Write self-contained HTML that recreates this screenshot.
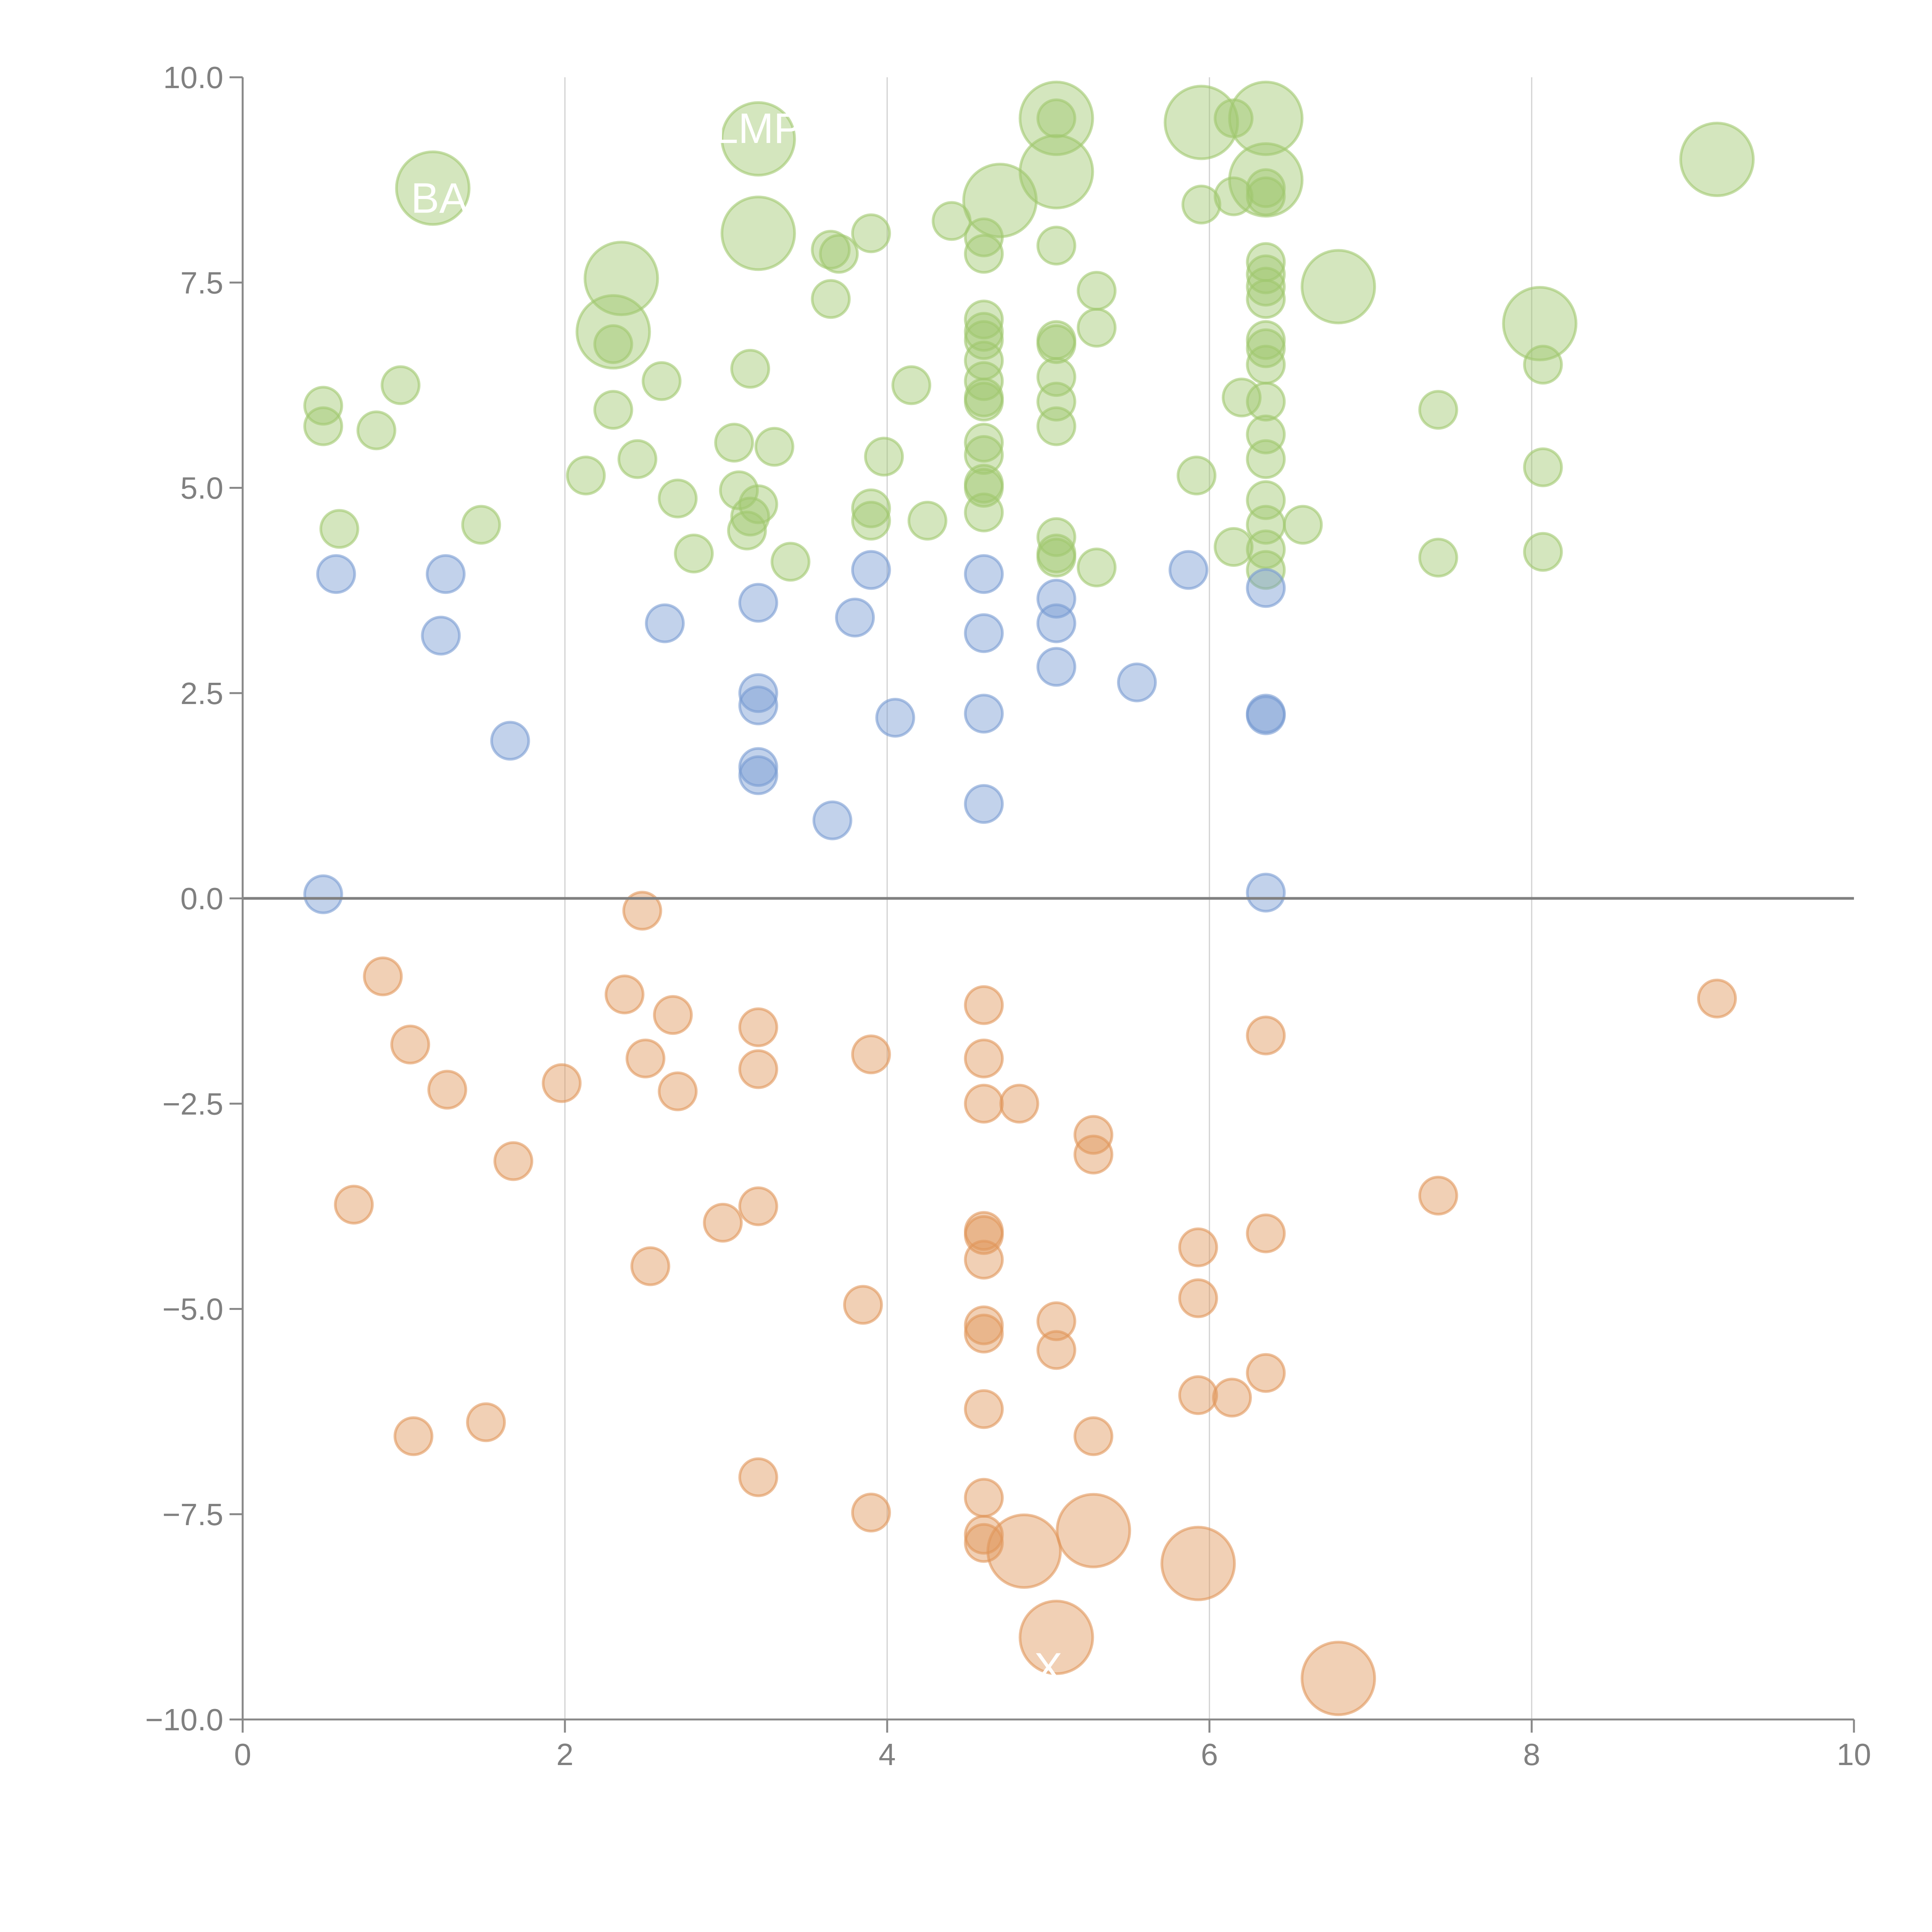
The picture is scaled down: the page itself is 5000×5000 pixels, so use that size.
<!DOCTYPE html>
<html><head><meta charset="utf-8"><style>
html,body{margin:0;padding:0;background:#fff}
svg{display:block;font-family:"Liberation Sans",Arial,sans-serif}
</style></head><body>
<svg id="chart" width="5000" height="5000" viewBox="0 0 5000 5000" xmlns="http://www.w3.org/2000/svg">
<g id="grid"></g>
<g id="marks"></g>
<g id="labels"></g>
<g id="axes"></g>
</svg>
<script>
const greenX=[1.18,3.2,3.2,2.35,2.3,4.7,5.05,5.05,5.95,6.35,6.35,6.8,8.05,9.15,
5.05,6.15,5.95,6.15,6.35,6.35,3.9,4.4,4.6,4.6,5.05,3.65,3.7,5.3,3.65,4.6,4.6,4.6,5.05,5.05,5.3,6.35,6.35,6.35,6.35,6.35,6.35,6.35,2.3,2.6,3.15,4.15,4.6,4.6,4.6,4.6,5.05,5.05,5.05,6.2,6.35,6.35,6.35,0.5,0.5,0.98,0.83,2.3,3.05,3.3,2.45,3.98,4.6,4.6,4.6,4.6,2.13,2.7,3.08,3.2,3.15,3.13,3.9,3.9,4.25,4.6,5.92,6.35,6.35,6.35,6.35,6.58,5.05,5.05,5.05,5.3,6.15,2.8,3.4,0.6,1.48,7.42,7.42,8.07,8.07,8.07];
const greenY=[8.65,9.25,8.1,7.55,6.9,8.5,9.5,8.85,9.45,9.5,8.75,7.45,7.0,9.0,
9.5,9.5,8.45,8.55,8.55,8.65,8.1,8.25,8.05,7.85,7.95,7.9,7.85,7.4,7.3,7.05,6.9,6.8,6.8,6.75,6.95,7.75,7.6,7.45,7.3,6.8,6.7,6.5,6.75,6.3,6.45,6.25,6.55,6.3,6.1,6.05,6.35,6.05,5.75,6.1,6.05,5.65,5.35,6.0,5.75,6.25,5.7,5.95,5.55,5.5,5.35,5.38,5.55,5.4,5.05,5.0,5.15,4.87,4.97,4.8,4.65,4.48,4.75,4.6,4.6,4.7,5.15,4.85,4.55,4.25,4.0,4.55,4.4,4.2,4.15,4.03,4.28,4.2,4.1,4.5,4.55,5.95,4.15,6.5,5.25,4.22];
const greenSize=[2,2,2,2,2,2,2,2,2,2,2,2,2,2];
const blueX=[0.58,1.26,1.23,1.66,0.5,2.62,3.2,3.8,3.9,3.2,3.2,3.2,3.2,4.05,3.66,4.6,4.6,4.6,4.6,5.05,5.05,5.05,5.55,5.87,6.35,6.35,6.35,6.35];
const blueY=[3.95,3.95,3.2,1.92,0.05,3.35,3.6,3.42,4.0,2.5,2.35,1.6,1.5,2.2,0.95,3.95,3.23,2.25,1.15,3.65,3.35,2.82,2.63,4.0,3.78,2.25,2.23,0.07];
const orangeX=[4.85,5.28,5.93,5.05,6.8,
2.48,0.87,2.37,1.04,2.67,3.2,2.5,1.27,1.98,2.7,3.2,3.9,4.6,4.6,4.6,4.82,5.28,5.28,6.35,9.15,1.68,0.69,2.98,3.2,2.53,4.6,4.6,4.6,5.93,6.35,7.42,3.85,4.6,4.6,5.05,5.05,5.93,6.35,5.93,6.14,4.6,5.28,1.06,1.51,3.2,3.9,4.6,4.6,4.6];
const orangeY=[-7.95,-7.7,-8.1,-9.0,-9.5,
-0.15,-0.95,-1.17,-1.78,-1.42,-1.57,-1.95,-2.33,-2.25,-2.35,-2.08,-1.9,-1.3,-1.95,-2.5,-2.5,-2.88,-3.12,-1.67,-1.22,-3.2,-3.73,-3.95,-3.75,-4.48,-4.05,-4.1,-4.4,-4.25,-4.08,-3.62,-4.95,-5.2,-5.3,-5.15,-5.5,-4.87,-5.78,-6.05,-6.08,-6.22,-6.55,-6.55,-6.38,-7.05,-7.48,-7.3,-7.75,-7.85];
const orangeSize=[2,2,2,2,2];
const xTicks=[0,2,4,6,8,10];
const yTicks=[10,7.5,5,2.5,0,-2.5,-5,-7.5,-10];
const yTickLabels=["10.0","7.5","5.0","2.5","0.0","\u22122.5","\u22125.0","\u22127.5","\u221210.0"];
const labelText=["BA","LMP","X"];
const labelX=[1.22,3.2,5.0];
const labelY=[8.35,9.2,-9.55];

const NS="http://www.w3.org/2000/svg";
const X0=628,X1=4798,Y0=4450,Y1=200;
const sx=v=>X0+(v-0)/(10-0)*(X1-X0);
const sy=v=>Y0-(v+10)/20*(Y0-Y1);
function mk(tag,attrs,parent){const e=document.createElementNS(NS,tag);for(const k in attrs)e.setAttribute(k,attrs[k]);parent.appendChild(e);return e;}
const grid=document.getElementById('grid'),marks=document.getElementById('marks'),axes=document.getElementById('axes'),labels=document.getElementById('labels');

xTicks.forEach(t=>{if(t>0&&t<10){const l=mk('line',{x1:sx(t),x2:sx(t),y1:Y1,y2:Y0,stroke:'#d0d0d0','stroke-width':3},grid);

}});

function series(xs,ys,sizes,fill,stroke,name){
  xs.forEach((x,i)=>{const big=(sizes[i]||1)===2;
    const c=mk('circle',{cx:sx(x),cy:sy(ys[i]),r:big?94:48,fill:fill,'fill-opacity':0.45,stroke:stroke,'stroke-opacity':0.6,'stroke-width':7},marks);
    
    });
}
series(greenX,greenY,greenSize,'rgb(160,200,110)','rgb(160,200,110)','green');
series(blueX,blueY,[],'rgb(120,155,210)','rgb(120,155,210)','blue');
series(orangeX,orangeY,orangeSize,'rgb(225,150,90)','rgb(225,150,90)','orange');

labelText.forEach((t,i)=>{const e=mk('text',{x:sx(labelX[i]),y:sy(labelY[i]),fill:'#fff','font-size':110,'text-anchor':'middle'},labels);e.textContent=t;

});

const zl=mk('line',{x1:X0,x2:X1,y1:sy(0),y2:sy(0),stroke:'#808080','stroke-width':7},axes);


const ya=mk('line',{x1:X0,x2:X0,y1:Y1,y2:Y0,stroke:'#888','stroke-width':5},axes);


const xa=mk('line',{x1:X0,x2:X1,y1:Y0,y2:Y0,stroke:'#888','stroke-width':5},axes);


yTicks.forEach((t,i)=>{mk('line',{x1:X0-34,x2:X0,y1:sy(t),y2:sy(t),stroke:'#888','stroke-width':5},axes);
  const e=mk('text',{x:X0-50,y:sy(t)+28,fill:'#808080','font-size':80,'text-anchor':'end'},axes);e.textContent=yTickLabels[i];
  
  });
xTicks.forEach(t=>{mk('line',{x1:sx(t),x2:sx(t),y1:Y0,y2:Y0+34,stroke:'#888','stroke-width':5},axes);
  const e=mk('text',{x:sx(t),y:Y0+118,fill:'#808080','font-size':80,'text-anchor':'middle'},axes);e.textContent=String(t);
  
  });
</script>
</body></html>
